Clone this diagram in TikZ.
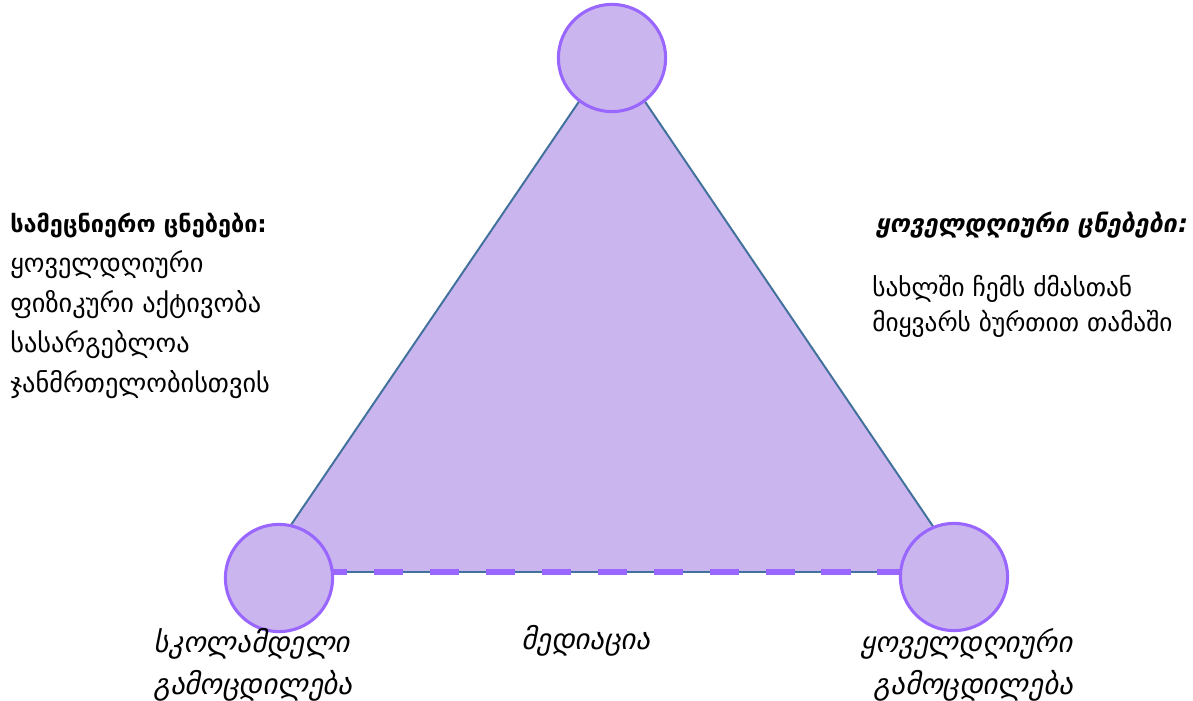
\documentclass[tikz,border=0pt]{standalone}
\usepackage{fontspec}
\newfontfamily\geo{DejaVu Sans}
\newfontfamily\geoit[FakeSlant=0.2]{DejaVu Sans}
\usetikzlibrary{positioning}
\definecolor{lilac}{HTML}{CBB5EF}
\definecolor{ringpurple}{HTML}{9966FF}
\definecolor{edgeblue}{HTML}{41719C}

\begin{document}
\begin{tikzpicture}[x=0.025cm, y=-0.025cm,
  tri/.style={draw=edgeblue, line width=1.4pt, fill=lilac, line join=round},
  medline/.style={draw=ringpurple, line width=4.3pt, dash pattern=on 21pt off 18.8pt, dash phase=-2pt},
  ring/.style={circle, draw=ringpurple, line width=2.2pt, fill=lilac, minimum size=2.68cm, inner sep=0pt},
  note/.style={font=\geo\fontsize{18.7}{28.5}\selectfont, align=left, inner sep=0pt},
  lbl/.style={font=\geoit\fontsize{20.5}{30}\selectfont, inner sep=0pt}
]
\useasboundingbox (0,0) rectangle (1193,701);

\coordinate (vtop) at (612,53);
\coordinate (vleft) at (259,572);
\coordinate (vright) at (964,572);
\draw[tri] (vtop) -- (vleft) -- (vright) -- cycle;
\draw[medline] (vleft) -- (vright);

\node[ring] (ctop) at (612,58) {};
\node[ring] (cleft) at (279,578) {};
\node[ring] (cright) at (954,577) {};

\node[note, anchor=base west] (sci) at (10,393) {{\bfseries\fontsize{16.7}{20}\selectfont სამეცნიერო ცნებები:}\\
  ყოველდღიური\\
  ფიზიკური აქტივობა\\
  სასარგებლოა\\
  ჯანმრთელობისთვის};

\node[lbl, anchor=base west, font=\geoit\fontsize{17.7}{20}\selectfont\bfseries] (daily) at (875,233) {ყოველდღიური ცნებები:};
\node[note, anchor=base west, font=\geo\fontsize{18}{25}\selectfont] (home) at (872,332) {სახლში ჩემს ძმასთან\\
  მიყვარს ბურთით თამაში};

\node[lbl, align=left, anchor=base west] (preschool) at (153,695) {სკოლამდელი\\გამოცდილება};
\node[lbl, anchor=base] (mediation) at (586,650) {მედიაცია};
\node[lbl, align=right, anchor=base east] (everyday) at (1073,695) {ყოველდღიური\\გამოცდილება};

\end{tikzpicture}
\end{document}
